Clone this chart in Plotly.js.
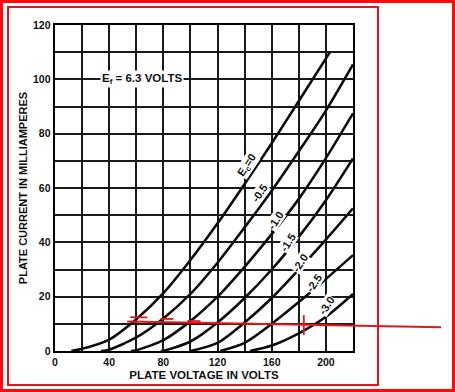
<!DOCTYPE html>
<html>
<head>
<meta charset="utf-8">
<script src="https://cdn.plot.ly/plotly-3.0.1.min.js"></script>
<style>
  html, body { margin: 0; padding: 0; background: #fff; }
  #wrap { position: relative; width: 455px; height: 392px; overflow: hidden; }
  #chart { position: absolute; left: 0; top: 0; width: 455px; height: 392px; }
  .frame { position: absolute; box-sizing: border-box; pointer-events: none; }
  #outer { left: 0; top: 0; width: 455px; height: 392px; border: 3px solid #ff0a0a; }
  #inner { left: 7px; top: 6px; width: 372px; height: 380px; border: 2px solid #e3141c; }
</style>
</head>
<body>
<div id="wrap">
  <div id="chart"></div>
  <div id="outer" class="frame"></div>
  <div id="inner" class="frame"></div>
</div>
<script>
// ---- data (plate voltage in volts, plate current in mA) ----
const gridLabels = ["E<sub>c</sub>=0", "-0.5", "-1.0", "-1.5", "-2.0", "-2.5", "-3.0"];

const v_0   = [12, 20, 40, 60, 80, 100, 120, 140, 160, 180, 203];
const i_0   = [0, 0.8, 4.2, 11.7, 21.3, 33.5, 47, 61.5, 76.5, 92, 110];
const v_05  = [34, 40, 60, 80, 100, 120, 140, 160, 180, 200, 220];
const i_05  = [0, 0.5, 5, 12, 21, 32.5, 45.5, 59, 73.5, 88.5, 105.5];
const v_10  = [56, 60, 80, 100, 120, 140, 160, 180, 200, 220];
const i_10  = [0, 0.3, 4, 11, 20, 31, 43, 56, 71, 87.5];
const v_15  = [78, 80, 100, 120, 140, 160, 180, 200, 220];
const i_15  = [0, 0.1, 3.5, 10.5, 19.5, 30, 42, 55.5, 70.9];
const v_20  = [100, 120, 140, 160, 180, 200, 220];
const i_20  = [0, 3, 10.5, 19.5, 30, 41, 52.5];
const v_25  = [122, 140, 160, 180, 200, 220];
const i_25  = [0, 3, 10, 18, 26.5, 35.3];
const v_30  = [144, 160, 180, 200, 220];
const i_30  = [0, 2, 6.5, 12.6, 21];

// curve label positions (V, mA)
const labelV = [142, 151, 163, 172, 181, 191.4, 200.7];
const labelI = [68.5, 58.2, 48.2, 40.2, 32.3, 24.9, 16.9];

// filament note
const noteText = "E<sub>f</sub> = 6.3 VOLTS";
const noteV = 64.4, noteI = 100.2;

// hand-drawn red markup (V, mA)
const redLineV = [53.3, 285];
const redLineI = [10.86, 8.7];
const redDashV = [[55.6, 68.1], [77.8, 87.4], [97.8, 107.4]];
const redDashI = [[12.5, 12.4], [11.8, 11.8], [11.1, 11.0]];
const redTickV = [183.7, 183.7];
const redTickI = [13.2, 5.9];

// labelled ticks; grid also at the midpoints (20 V / 10 mA)
const xTicks = [0, 40, 80, 120, 160, 200];
const yTicks = [0, 20, 40, 60, 80, 100, 120];
const xGridStep = 20, yGridStep = 10;
const xRange = [0, 220], yRange = [0, 120];

// ---- build ----
const seriesV = [v_0, v_05, v_10, v_15, v_20, v_25, v_30];
const seriesI = [i_0, i_05, i_10, i_15, i_20, i_25, i_30];
const traces = seriesV.map((v, k) => ({
  x: v, y: seriesI[k], type: 'scatter', mode: 'lines',
  line: {color: '#0d0d0d', width: 2.6, shape: 'spline', smoothing: 0.8},
  hoverinfo: 'skip', showlegend: false
}));

const font = {family: '"Liberation Sans", Arial, sans-serif', color: '#111'};
const annotations = gridLabels.map((t, k) => ({
  x: labelV[k], y: labelI[k], xref: 'x', yref: 'y', text: t, showarrow: false,
  textangle: -56, bgcolor: '#fff', borderpad: 0,
  font: Object.assign({}, font, {size: 11, weight: 'bold'})
}));
annotations.push({
  x: noteV, y: noteI, xref: 'x', yref: 'y', text: noteText, showarrow: false,
  bgcolor: '#fff', borderpad: 1,
  font: Object.assign({}, font, {size: 11.5, weight: 'bold'})
});

const dx = v => (v - xRange[0]) / (xRange[1] - xRange[0]);
const dy = i => (i - yRange[0]) / (yRange[1] - yRange[0]);
const red = '#e8141b';
const seg = (v0, i0, v1, i1, w) => ({
  type: 'line', xref: 'x domain', yref: 'y domain',
  x0: dx(v0), y0: dy(i0), x1: dx(v1), y1: dy(i1),
  line: {color: red, width: w}, layer: 'above'
});
const shapes = [seg(redLineV[0], redLineI[0], redLineV[1], redLineI[1], 2)];
redDashV.forEach((v, k) => shapes.push(seg(v[0], redDashI[k][0], v[1], redDashI[k][1], 1.8)));
shapes.push(seg(redTickV[0], redTickI[0], redTickV[1], redTickI[1], 1.8));

const gridColor = '#1a1a1a', gridW = 2;
const axisCommon = {
  showline: true, mirror: true, linecolor: '#000', linewidth: 2.4,
  showgrid: true, gridcolor: gridColor, gridwidth: gridW,
  zeroline: false, ticks: '', fixedrange: true,
  tickfont: Object.assign({}, font, {size: 10.5, weight: 'bold'})
};

const layout = {
  width: 455, height: 392,
  margin: {l: 55, r: 102, t: 25, b: 41},
  paper_bgcolor: '#fff', plot_bgcolor: '#fff',
  showlegend: false,
  xaxis: Object.assign({}, axisCommon, {
    range: xRange, tickmode: 'array', tickvals: xTicks,
    minor: {dtick: xGridStep, tick0: 0, showgrid: true, gridcolor: gridColor, gridwidth: gridW, ticks: ''},
    title: {text: 'PLATE VOLTAGE IN VOLTS', standoff: 4,
            font: Object.assign({}, font, {size: 11.5, weight: 'bold'})}
  }),
  yaxis: Object.assign({}, axisCommon, {
    range: yRange, tickmode: 'array', tickvals: yTicks,
    minor: {dtick: yGridStep, tick0: 0, showgrid: true, gridcolor: gridColor, gridwidth: gridW, ticks: ''},
    title: {text: 'PLATE CURRENT IN MILLIAMPERES', standoff: 3,
            font: Object.assign({}, font, {size: 11, weight: 'bold'})}
  }),
  annotations: annotations,
  shapes: shapes
};

Plotly.newPlot('chart', traces, layout, {displayModeBar: false, staticPlot: true});
</script>
</body>
</html>
